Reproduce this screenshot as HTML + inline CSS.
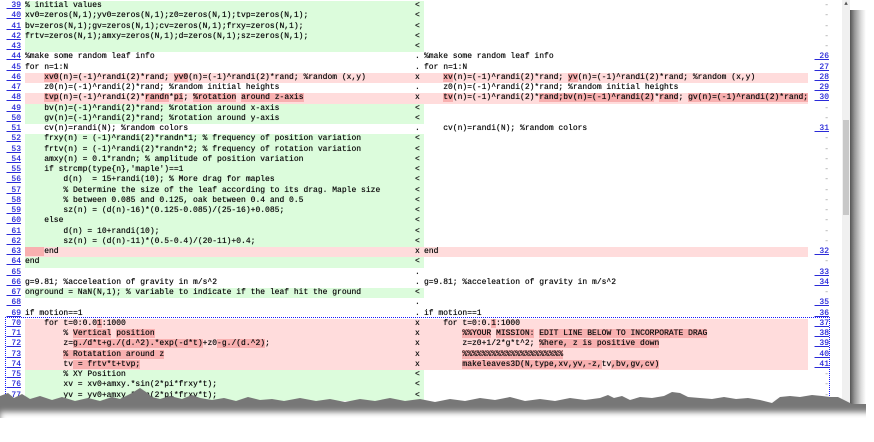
<!DOCTYPE html>
<html><head><meta charset="utf-8">
<style>
html,body{margin:0;padding:0;background:#fff;}
body{width:874px;height:442px;position:relative;overflow:hidden;font-family:"Liberation Mono",monospace;font-size:8px;color:#111;}
#w{position:absolute;left:0;top:1px;width:842px;height:420px;}
.r{position:absolute;left:0;width:842px;height:10.25px;line-height:10.25px;white-space:pre;text-shadow:0 0 0.4px #000;}
.n{position:absolute;left:0;width:21px;text-align:right;color:#2a2ad8;text-decoration:underline;text-shadow:0 0 0.4px #2a2ad8;}
.L{position:absolute;left:25px;width:387px;height:100%;overflow:hidden;}
.m{position:absolute;left:412px;width:12px;height:100%;text-indent:3px;}
.R{position:absolute;left:424px;width:384px;height:100%;overflow:hidden;}
.rn{position:absolute;left:808px;width:21px;text-align:right;color:#2a2ad8;text-decoration:underline;text-shadow:0 0 0.4px #2a2ad8;}
.rd{position:absolute;left:808px;width:21px;text-align:right;color:#999;text-shadow:none;}
.g .L,.g .m{background:#dcfcdc;}
.x .L,.x .m,.x .R{background:#ffdcdc;}
.h{background:#f8b0b0;}
</style></head><body>
<div id="w">
<div class="r g" style="top:0px"><span class="n"> 39</span><div class="L">% initial values</div><div class="m">&lt;</div><div class="R"></div><span class="rd">-</span></div>
<div class="r g" style="top:10.25px"><span class="n"> 40</span><div class="L">xv0=zeros(N,1);yv0=zeros(N,1);z0=zeros(N,1);tvp=zeros(N,1);</div><div class="m">&lt;</div><div class="R"></div><span class="rd">-</span></div>
<div class="r g" style="top:20.5px"><span class="n"> 41</span><div class="L">bv=zeros(N,1);gv=zeros(N,1);cv=zeros(N,1);frxy=zeros(N,1);</div><div class="m">&lt;</div><div class="R"></div><span class="rd">-</span></div>
<div class="r g" style="top:30.75px"><span class="n"> 42</span><div class="L">frtv=zeros(N,1);amxy=zeros(N,1);d=zeros(N,1);sz=zeros(N,1);</div><div class="m">&lt;</div><div class="R"></div><span class="rd">-</span></div>
<div class="r g" style="top:41px"><span class="n"> 43</span><div class="L"></div><div class="m">&lt;</div><div class="R"></div><span class="rd">-</span></div>
<div class="r" style="top:51.25px"><span class="n"> 44</span><div class="L">%make some random leaf info</div><div class="m">.</div><div class="R">%make some random leaf info</div><span class="rn"> 26</span></div>
<div class="r" style="top:61.5px"><span class="n"> 45</span><div class="L">for n=1:N</div><div class="m">.</div><div class="R">for n=1:N</div><span class="rn"> 27</span></div>
<div class="r x" style="top:71.75px"><span class="n"> 46</span><div class="L">    <span class="h">xv0</span>(n)=(-1)^randi(2)*rand; <span class="h">yv0</span>(n)=(-1)^randi(2)*rand; %random (x,y)</div><div class="m">x</div><div class="R">    <span class="h">xv</span>(n)=(-1)^randi(2)*rand; <span class="h">yv</span>(n)=(-1)^randi(2)*rand; %random (x,y)</div><span class="rn"> 28</span></div>
<div class="r" style="top:82px"><span class="n"> 47</span><div class="L">    z0(n)=(-1)^randi(2)*rand; %random initial heights</div><div class="m">.</div><div class="R">    z0(n)=(-1)^randi(2)*rand; %random initial heights</div><span class="rn"> 29</span></div>
<div class="r x" style="top:92.25px"><span class="n"> 48</span><div class="L">    <span class="h">tvp</span>(n)=(-1)^randi(2)*<span class="h">randn</span>*<span class="h">pi</span>; <span class="h">%rotation</span> <span class="h">around z-axis</span></div><div class="m">x</div><div class="R">    <span class="h">tv</span>(n)=(-1)^randi(2)*<span class="h">rand;bv(n)=(-1)^randi(2)</span>*<span class="h">rand</span>; <span class="h">gv(n)=(-1)^randi(2)*rand;</span></div><span class="rn"> 30</span></div>
<div class="r g" style="top:102.5px"><span class="n"> 49</span><div class="L">    bv(n)=(-1)^randi(2)*rand; %rotation around x-axis</div><div class="m">&lt;</div><div class="R"></div><span class="rd">-</span></div>
<div class="r g" style="top:112.75px"><span class="n"> 50</span><div class="L">    gv(n)=(-1)^randi(2)*rand; %rotation around y-axis</div><div class="m">&lt;</div><div class="R"></div><span class="rd">-</span></div>
<div class="r" style="top:123px"><span class="n"> 51</span><div class="L">    cv(n)=randi(N); %random colors</div><div class="m">.</div><div class="R">    cv(n)=randi(N); %random colors</div><span class="rn"> 31</span></div>
<div class="r g" style="top:133.25px"><span class="n"> 52</span><div class="L">    frxy(n) = (-1)^randi(2)*randn*1; % frequency of position variation</div><div class="m">&lt;</div><div class="R"></div><span class="rd">-</span></div>
<div class="r g" style="top:143.5px"><span class="n"> 53</span><div class="L">    frtv(n) = (-1)^randi(2)*randn*2; % frequency of rotation variation</div><div class="m">&lt;</div><div class="R"></div><span class="rd">-</span></div>
<div class="r g" style="top:153.75px"><span class="n"> 54</span><div class="L">    amxy(n) = 0.1*randn; % amplitude of position variation</div><div class="m">&lt;</div><div class="R"></div><span class="rd">-</span></div>
<div class="r g" style="top:164px"><span class="n"> 55</span><div class="L">    if strcmp(type{n},'maple')==1</div><div class="m">&lt;</div><div class="R"></div><span class="rd">-</span></div>
<div class="r g" style="top:174.25px"><span class="n"> 56</span><div class="L">        d(n)  = 15+randi(10); % More drag for maples</div><div class="m">&lt;</div><div class="R"></div><span class="rd">-</span></div>
<div class="r g" style="top:184.5px"><span class="n"> 57</span><div class="L">        % Determine the size of the leaf according to its drag. Maple size</div><div class="m">&lt;</div><div class="R"></div><span class="rd">-</span></div>
<div class="r g" style="top:194.75px"><span class="n"> 58</span><div class="L">        % between 0.085 and 0.125, oak between 0.4 and 0.5</div><div class="m">&lt;</div><div class="R"></div><span class="rd">-</span></div>
<div class="r g" style="top:205px"><span class="n"> 59</span><div class="L">        sz(n) = (d(n)-16)*(0.125-0.085)/(25-16)+0.085;</div><div class="m">&lt;</div><div class="R"></div><span class="rd">-</span></div>
<div class="r g" style="top:215.25px"><span class="n"> 60</span><div class="L">    else</div><div class="m">&lt;</div><div class="R"></div><span class="rd">-</span></div>
<div class="r g" style="top:225.5px"><span class="n"> 61</span><div class="L">        d(n) = 10+randi(10);</div><div class="m">&lt;</div><div class="R"></div><span class="rd">-</span></div>
<div class="r g" style="top:235.75px"><span class="n"> 62</span><div class="L">        sz(n) = (d(n)-11)*(0.5-0.4)/(20-11)+0.4;</div><div class="m">&lt;</div><div class="R"></div><span class="rd">-</span></div>
<div class="r x" style="top:246px"><span class="n"> 63</span><div class="L"><span class="h">    </span>end</div><div class="m">x</div><div class="R">end</div><span class="rn"> 32</span></div>
<div class="r g" style="top:256.25px"><span class="n"> 64</span><div class="L">end</div><div class="m">&lt;</div><div class="R"></div><span class="rd">-</span></div>
<div class="r" style="top:266.5px"><span class="n"> 65</span><div class="L"></div><div class="m">.</div><div class="R"></div><span class="rn"> 33</span></div>
<div class="r" style="top:276.75px"><span class="n"> 66</span><div class="L">g=9.81; %acceleation of gravity in m/s^2</div><div class="m">.</div><div class="R">g=9.81; %acceleation of gravity in m/s^2</div><span class="rn"> 34</span></div>
<div class="r g" style="top:287px"><span class="n"> 67</span><div class="L">onground = NaN(N,1); % variable to indicate if the leaf hit the ground</div><div class="m">&lt;</div><div class="R"></div><span class="rd">-</span></div>
<div class="r" style="top:297.25px"><span class="n"> 68</span><div class="L"></div><div class="m">.</div><div class="R"></div><span class="rn"> 35</span></div>
<div class="r" style="top:307.5px"><span class="n"> 69</span><div class="L">if motion==1</div><div class="m">.</div><div class="R">if motion==1</div><span class="rn"> 36</span></div>
<div class="r x" style="top:317.75px"><span class="n"> 70</span><div class="L">    for t=0:0.0<span class="h">1</span>:1000</div><div class="m">x</div><div class="R">    for t=0:0.<span class="h">1</span>:1000</div><span class="rn"> 37</span></div>
<div class="r x" style="top:328px"><span class="n"> 71</span><div class="L">        % <span class="h">Vertical</span> <span class="h">position</span></div><div class="m">x</div><div class="R">        <span class="h">%%YOUR</span> <span class="h">MISSION:</span> <span class="h">EDIT LINE BELOW TO INCORPORATE DRAG</span></div><span class="rn"> 38</span></div>
<div class="r x" style="top:338.25px"><span class="n"> 72</span><div class="L">        z=<span class="h">g./d*t+g./(d.^2).*exp(-d*t)</span>+z0<span class="h">-g./(d.^2)</span>;</div><div class="m">x</div><div class="R">        z=z0+1/2*g*t^2; <span class="h">%here, z is positive down</span></div><span class="rn"> 39</span></div>
<div class="r x" style="top:348.5px"><span class="n"> 73</span><div class="L">        <span class="h">% Rotatation around z</span></div><div class="m">x</div><div class="R">        <span class="h">%%%%%%%%%%%%%%%%%%%%%</span></div><span class="rn"> 40</span></div>
<div class="r x" style="top:358.75px"><span class="n"> 74</span><div class="L">        tv<span class="h"> = frtv*t+tvp;</span></div><div class="m">x</div><div class="R">        <span class="h">makeleaves3D(N,type,xv,yv,-z,</span>tv<span class="h">,bv,gv,cv)</span></div><span class="rn"> 41</span></div>
<div class="r g" style="top:369px"><span class="n"> 75</span><div class="L">        % XY Position</div><div class="m">&lt;</div><div class="R"></div><span class="rd">-</span></div>
<div class="r g" style="top:379.25px"><span class="n"> 76</span><div class="L">        xv = xv0+amxy.*sin(2*pi*frxy*t);</div><div class="m">&lt;</div><div class="R"></div><span class="rd">-</span></div>
<div class="r g" style="top:389.5px"><span class="n"> 77</span><div class="L">        yv = yv0+amxy.*sin(2*pi*frxy*t);</div><div class="m">&lt;</div><div class="R"></div><span class="rd">-</span></div>
</div>

<!-- dotted selection box -->
<div style="position:absolute;left:5px;top:317px;width:823px;height:100px;border:1.5px dotted #1a1aff;border-bottom:none;"></div>

<!-- scrollbar -->
<div style="position:absolute;left:842px;top:0;width:8px;height:410px;background:#f0f0f0;"></div>
<div style="position:absolute;left:843px;top:120px;width:6px;height:95px;background:#c8c8c8;"></div>
<div style="position:absolute;left:843px;top:0;width:6px;height:8px;font-size:6px;line-height:8px;text-align:center;color:#555;">▲</div>

<!-- right shadow -->
<div style="position:absolute;left:850px;top:10px;width:16px;height:400px;background:linear-gradient(to right,#555,#999 30%,#ddd 70%,#fff);"></div>

<svg style="position:absolute;left:0;top:0" width="874" height="442" viewBox="0 0 874 442">
<defs><filter id="b" x="-5%" y="-50%" width="110%" height="200%"><feGaussianBlur stdDeviation="3"/></filter></defs>
<path d="M0,396 L8,393 L14,398 L22,394 L30,399 L40,396 L52,400 L62,397 L75,401 L88,398 L100,401 L112,397 L120,399 L132,393 L140,388 L146,392 L152,397 L160,399 L170,396 L182,399 L192,395 L200,398 L212,400 L224,398 L236,401 L248,397 L260,400 L272,399 L284,401 L300,398 L316,401 L330,399 L345,402 L360,399 L375,401 L390,398 L405,401 L420,399 L435,402 L450,399 L465,401 L480,398 L495,400 L510,397 L525,401 L540,399 L555,401 L570,398 L585,400 L600,398 L608,395 L614,398 L622,396 L630,400 L640,397 L652,398 L664,396 L672,392 L680,393 L688,397 L700,398 L712,399 L724,397 L736,399 L748,398 L760,400 L772,403 L780,397 L790,396 L800,397 L812,395 L822,396 L830,397 L838,397 L846,401 L852,404 L874,406 L874,442 L0,442 Z" fill="#444" transform="translate(0,6)" filter="url(#b)" opacity="0.85"/>
<path d="M0,396 L8,393 L14,398 L22,394 L30,399 L40,396 L52,400 L62,397 L75,401 L88,398 L100,401 L112,397 L120,399 L132,393 L140,388 L146,392 L152,397 L160,399 L170,396 L182,399 L192,395 L200,398 L212,400 L224,398 L236,401 L248,397 L260,400 L272,399 L284,401 L300,398 L316,401 L330,399 L345,402 L360,399 L375,401 L390,398 L405,401 L420,399 L435,402 L450,399 L465,401 L480,398 L495,400 L510,397 L525,401 L540,399 L555,401 L570,398 L585,400 L600,398 L608,395 L614,398 L622,396 L630,400 L640,397 L652,398 L664,396 L672,392 L680,393 L688,397 L700,398 L712,399 L724,397 L736,399 L748,398 L760,400 L772,403 L780,397 L790,396 L800,397 L812,395 L822,396 L830,397 L838,397 L846,401 L852,404 L874,404 L874,442 L0,442 Z" fill="#777"/>
<rect x="0" y="412" width="874" height="30" fill="#fff" filter="url(#b)"/>
<rect x="0" y="418" width="874" height="24" fill="#fff"/>
</svg>
<div style="position:absolute;left:866px;top:0;width:8px;height:442px;background:#fff;"></div>
</body></html>
